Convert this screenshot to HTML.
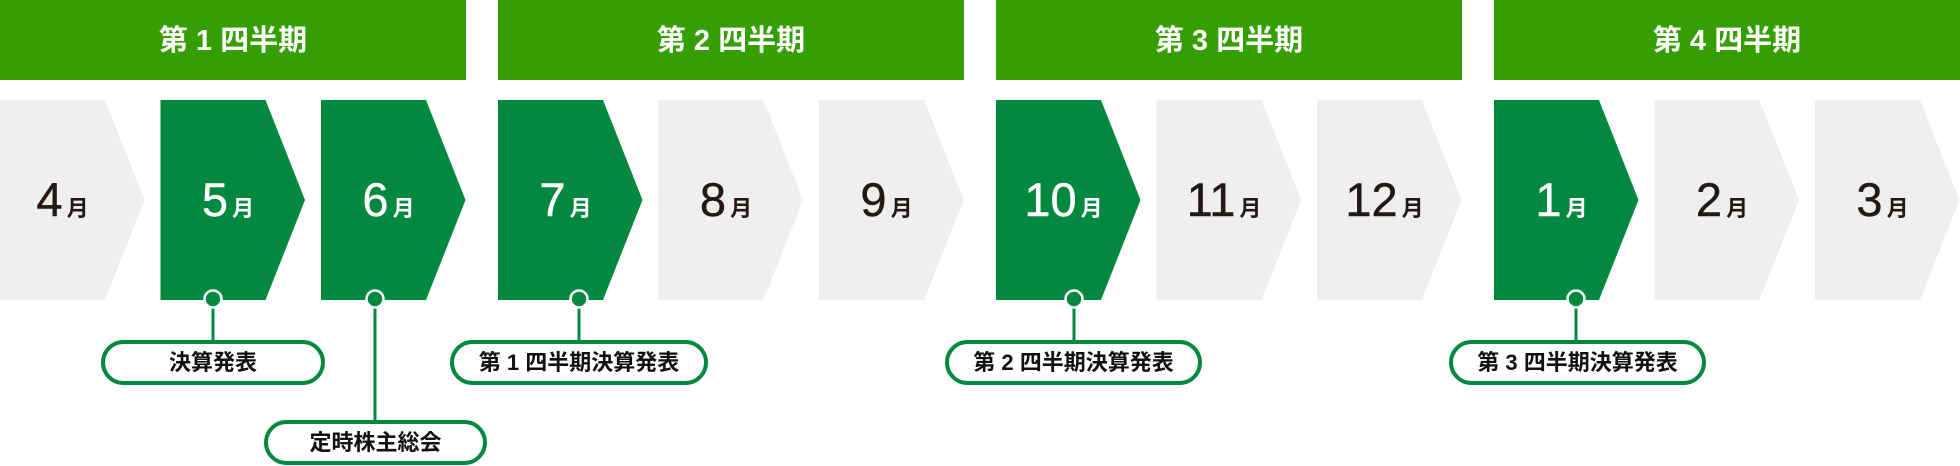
<!DOCTYPE html>
<html><head><meta charset="utf-8"><style>
html,body{margin:0;padding:0;background:#fff;}
body{width:1960px;height:466px;position:relative;overflow:hidden;font-family:"Liberation Sans","Noto Sans CJK JP",sans-serif;}
.h{position:absolute;top:0;height:80px;background:#359e02;color:#fff;font-weight:bold;font-size:29px;line-height:82px;text-align:center;}
.m{position:absolute;top:100px;width:125px;height:200px;line-height:200px;text-align:center;font-weight:bold;color:#231815;}
.m .n{font-size:47px;font-weight:normal;-webkit-text-stroke:0.4px currentColor;}
.m .t{font-size:22px;margin-left:4px;}
.m.g{color:#fff;}
.p{position:absolute;height:37px;border:4px solid #02893f;border-radius:24px;background:#fff;text-align:center;line-height:37px;font-size:22px;font-weight:bold;color:#111;}
svg{position:absolute;left:0;top:0;}
</style></head><body>
<svg width="1960" height="466">
<g id="c"></g>
</svg>
<div class="h" style="left:0;width:466px">第 1 四半期</div>
<div class="h" style="left:498px;width:466px">第 2 四半期</div>
<div class="h" style="left:996px;width:466px">第 3 四半期</div>
<div class="h" style="left:1494px;width:466px">第 4 四半期</div>
<script>
var svg=document.querySelector('svg');
var ns='http://www.w3.org/2000/svg';
var labels=['4','5','6','7','8','9','10','11','12','1','2','3'];
var green=[1,2,3,6,9];
var html='';
for(var i=0;i<12;i++){
 var q=Math.floor(i/3),k=i%3;
 var x=q*498+k*160.5;
 var g=green.indexOf(i)>=0;
 var p=document.createElementNS(ns,'polygon');
 p.setAttribute('points',x+',100 '+(x+105)+',100 '+(x+144.5)+',200 '+(x+105)+',300 '+x+',300');
 p.setAttribute('fill',g?'#02893f':'#efefef');
 svg.appendChild(p);
 html+='<div class="m'+(g?' g':'')+'" style="left:'+(x+(k==0&&q==0?0:5))+'px"><span class="n">'+labels[i]+'</span><span class="t">月</span></div>';
}
var lines=[[213,340],[375,420],[579,340],[1074,340],[1576,340]];
lines.forEach(function(l){
 var ln=document.createElementNS(ns,'line');
 ln.setAttribute('x1',l[0]);ln.setAttribute('x2',l[0]);ln.setAttribute('y1',300);ln.setAttribute('y2',l[1]);
 ln.setAttribute('stroke','#02893f');ln.setAttribute('stroke-width','3');svg.appendChild(ln);
 var c=document.createElementNS(ns,'circle');
 c.setAttribute('cx',l[0]);c.setAttribute('cy',299);c.setAttribute('r',8.5);
 c.setAttribute('fill','#02893f');c.setAttribute('stroke','#fff');c.setAttribute('stroke-width','2.5');svg.appendChild(c);
});
document.body.insertAdjacentHTML('beforeend',html);
</script>
<div class="p" style="left:101px;top:340px;width:216px">決算発表</div>
<div class="p" style="left:264px;top:420px;width:215px">定時株主総会</div>
<div class="p" style="left:450px;top:340px;width:250px">第 1 四半期決算発表</div>
<div class="p" style="left:945px;top:340px;width:249px">第 2 四半期決算発表</div>
<div class="p" style="left:1449px;top:340px;width:249px">第 3 四半期決算発表</div>
</body></html>
